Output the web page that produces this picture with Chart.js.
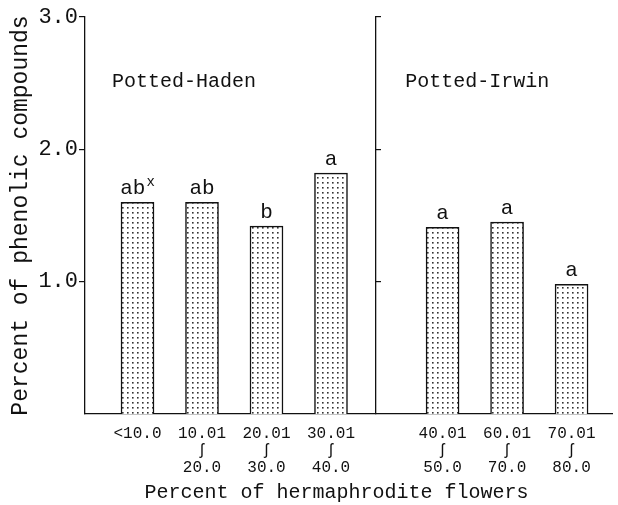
<!DOCTYPE html>
<html><head><meta charset="utf-8">
<script src="https://cdn.jsdelivr.net/npm/chart.js@4.4.1/dist/chart.umd.min.js"></script>
<style>html,body{margin:0;padding:0;background:#fff}#wrap{width:618px;height:505px}</style>
</head><body><div id="wrap"><canvas id="c" width="618" height="505"></canvas></div>
<script>
// ---- data ----
const categories = [["<10.0"],["10.01","\u0283","20.0"],["20.01","\u0283","30.0"],["30.01","\u0283","40.0"],["40.01","\u0283","50.0"],["60.01","\u0283","70.0"],["70.01","\u0283","80.0"]];
const groups = [0,0,0,0,1,1,1];
const groupNames = ["Potted-Haden","Potted-Irwin"];
const phenolic = [1.60,1.60,1.42,1.82,1.41,1.45,0.98];
const letters = ["ab","ab","b","a","a","a","a"];
const superscripts = ["x","","","","","",""];
const yTicks = [1.0,2.0,3.0];

// ---- layout / style ----
const GROUP_GAP = 0.73;
const X_MIN = -0.814, X_MAX = 7.357, MID = 3.698;
const PANEL_DX = [-0.395,-0.58], PANEL_Y = 2.47;
const FAM = '"Liberation Mono", "DejaVu Sans Mono", monospace';
const INK = '#111';
function pos(i){ return i + groups[i]*GROUP_GAP; }

const canvas = document.getElementById('c');
const ctx = canvas.getContext('2d');
const pc = document.createElement('canvas'); pc.width = 5; pc.height = 5;
const pctx = pc.getContext('2d');
pctx.fillStyle = '#fff'; pctx.fillRect(0,0,5,5);
pctx.fillStyle = '#333'; pctx.fillRect(2,2,1.6,1.6);
const pattern = ctx.createPattern(pc,'repeat');

const annot = {
  id:'annot',
  afterDatasetsDraw(chart){
    const c = chart.ctx; const meta = chart.getDatasetMeta(0);
    c.save(); c.fillStyle = INK; c.textBaseline = 'alphabetic'; c.textAlign = 'left';
    const LF = '21px ' + FAM, SF = '14px ' + FAM;
    meta.data.forEach((bar,i)=>{
      c.font = LF; const w1 = c.measureText(letters[i]).width;
      c.font = SF; const w2 = superscripts[i] ? c.measureText(superscripts[i]).width + 1 : 0;
      const x0 = bar.x - (w1+w2)/2, y = bar.y - 8;
      c.font = LF; c.fillText(letters[i], x0, y);
      if (w2) { c.font = SF; c.fillText(superscripts[i], x0 + w1 + 1, y - 8); }
    });
    const xs = chart.scales.x, ys = chart.scales.y;
    c.font = '20px ' + FAM;
    groupNames.forEach((name,g)=>{
      const first = groups.indexOf(g);
      c.fillText(name, xs.getPixelForValue(pos(first) + PANEL_DX[g]), ys.getPixelForValue(PANEL_Y));
    });
    c.restore();
  }
};

new Chart(ctx, {
  type:'bar',
  data:{ datasets:[{
    data: phenolic.map((v,i)=>({x:pos(i), y:v})),
    xAxisID:'x', yAxisID:'y',
    backgroundColor: pattern, borderColor: INK, borderWidth: 1.5,
    barThickness: 33
  }]},
  options:{
    responsive:false, animation:false, devicePixelRatio:1,
    layout:{ padding:{ top:17, right:6, left:0, bottom:0 } },
    plugins:{ legend:{display:false}, tooltip:{enabled:false} },
    scales:{
      x:{
        type:'linear', min:X_MIN, max:X_MAX, offset:false,
        afterBuildTicks: s => { s.ticks = phenolic.map((_,i)=>({value:pos(i)})); },
        afterFit: s => { s.height = 91; },
        ticks:{ autoSkip:false, maxRotation:0, minRotation:0, padding:11, color:INK,
          font:{ family:FAM, size:16, lineHeight:1.06 },
          callback:(v,idx)=>categories[idx] },
        grid:{ drawOnChartArea:false, drawTicks:false, offset:false },
        border:{ color:INK, width:1.3 },
        title:{ display:true, text:'Percent of hermaphrodite flowers  ', color:INK,
          font:{ family:FAM, size:20 }, padding:{ top:0, bottom:0 } }
      },
      y:{
        type:'linear', position:'left', min:0, max:3,
        afterBuildTicks: s => { s.ticks = yTicks.map(v=>({value:v})); },
        afterFit: s => { s.width = 85; },
        ticks:{ color:INK, padding:1, font:{ family:FAM, size:22 }, callback:v=>Number(v).toFixed(1) },
        grid:{ drawOnChartArea:false, tickLength:6, color:INK, lineWidth:1.2 },
        border:{ color:INK, width:1.3 },
        title:{ display:true, text:'Percent of phenolic compounds', color:INK,
          font:{ family:FAM, size:23 }, padding:{ top:7, bottom:0 } }
      },
      y2:{
        axis:'y', type:'linear', position:{ x:MID }, min:0, max:3,
        afterBuildTicks: s => { s.ticks = yTicks.map(v=>({value:v})); },
        ticks:{ display:false },
        grid:{ drawOnChartArea:false, tickLength:-6, color:INK, lineWidth:1.2 },
        border:{ color:INK, width:1.3 }
      }
    }
  },
  plugins:[annot]
});
</script></body></html>
